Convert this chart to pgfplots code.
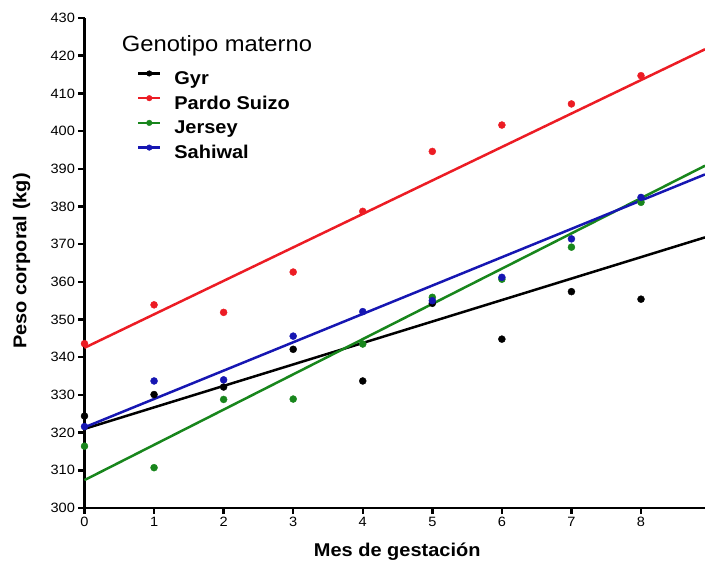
\documentclass[border=0pt]{standalone}
\usepackage{pgfplots}
\pgfplotsset{compat=1.18}
\usepackage{fontspec}
\setmainfont{Liberation Sans}[FakeStretch=1.08]

\definecolor{gyr}{RGB}{0,0,0}
\definecolor{pardo}{RGB}{236,28,36}
\definecolor{jersey}{RGB}{24,134,28}
\definecolor{sahiwal}{RGB}{22,22,178}

\begin{document}
\begin{tikzpicture}[x=1pt,y=1pt]
\useasboundingbox (0,0) rectangle (705,562);
\begin{axis}[
    at={(84.5pt,54pt)}, anchor=south west,
    scale only axis,
    width=620.5pt, height=490pt,
    xmin=0, xmax=8.92,
    ymin=300, ymax=430,
    clip=false,
    axis x line*=bottom, axis y line*=left,
    axis line style={line width=2.4pt, -},
    xtick={0,1,...,8},
    ytick={300,310,...,430},
    tick align=outside,
    major tick length=6pt,
    tick style={line width=2.4pt, black},
    /pgf/number format/assume math mode=true,
    tick label style={font=\fontsize{13.5}{13.5}\selectfont},
    xlabel={Mes de gestación},
    ylabel={Peso corporal (kg)},
    label style={font=\bfseries\fontsize{18.5}{18.5}\selectfont},
    xlabel style={at={(axis description cs:0.504,-0.098)}, anchor=base},
    ylabel style={at={(axis description cs:-0.0935,0.504)}, anchor=base},
    legend cell align=left,
    legend style={draw=none, fill=none, inner sep=0pt,
        at={(axis description cs:0.0841,0.8933)}, anchor=north west,
        font=\bfseries\fontsize{18.5}{18.5}\selectfont,
        nodes={inner sep=0pt, text height=13pt, text depth=4pt},
        row sep=6.7pt, column sep=12.7pt},
    legend image code/.code={
        \draw[#1, line width=2.5pt, mark=none] (0pt,6.5pt) -- (22.3pt,6.5pt);
        \fill[#1] (11.15pt,6.5pt) circle (2.8pt);
    },
]
% legend images
\addlegendimage{gyr}
\addlegendimage{pardo}
\addlegendimage{jersey}
\addlegendimage{sahiwal}
\legend{Gyr,Pardo Suizo,Jersey,Sahiwal}

% regression lines
\addplot[gyr, line width=2.5pt, forget plot] coordinates {(0,321.0) (8.92,371.8)};
\addplot[pardo, line width=2.5pt, forget plot] coordinates {(0,342.5) (8.92,421.7)};
\addplot[jersey, line width=2.5pt, forget plot] coordinates {(0,307.4) (8.92,390.8)};
\addplot[sahiwal, line width=2.5pt, forget plot] coordinates {(0,321.4) (8.92,388.5)};

% monthly means
\addplot[only marks, mark=*, mark size=3.5pt, color=gyr, forget plot] coordinates {
    (0,324.4) (1,330.1) (2,332.1) (3,342.1) (4,333.7) (5,354.3) (6,344.8) (7,357.4) (8,355.4)};
\addplot[only marks, mark=*, mark size=3.5pt, color=pardo, forget plot] coordinates {
    (0,343.6) (1,353.9) (2,351.9) (3,362.6) (4,378.7) (5,394.6) (6,401.6) (7,407.2) (8,414.7)};
\addplot[only marks, mark=*, mark size=3.5pt, color=jersey, forget plot] coordinates {
    (0,316.4) (1,310.7) (2,328.8) (3,328.9) (4,343.5) (5,355.9) (6,360.7) (7,369.2) (8,381.1)};
\addplot[only marks, mark=*, mark size=3.5pt, color=sahiwal, forget plot] coordinates {
    (0,321.6) (1,333.7) (2,334.0) (3,345.6) (4,352.1) (5,355.0) (6,361.2) (7,371.4) (8,382.4)};

\node[anchor=base west, font=\fontsize{22}{22}\selectfont]
    at (axis description cs:0.0545,0.9312) {Genotipo materno};
\end{axis}
\end{tikzpicture}
\end{document}
